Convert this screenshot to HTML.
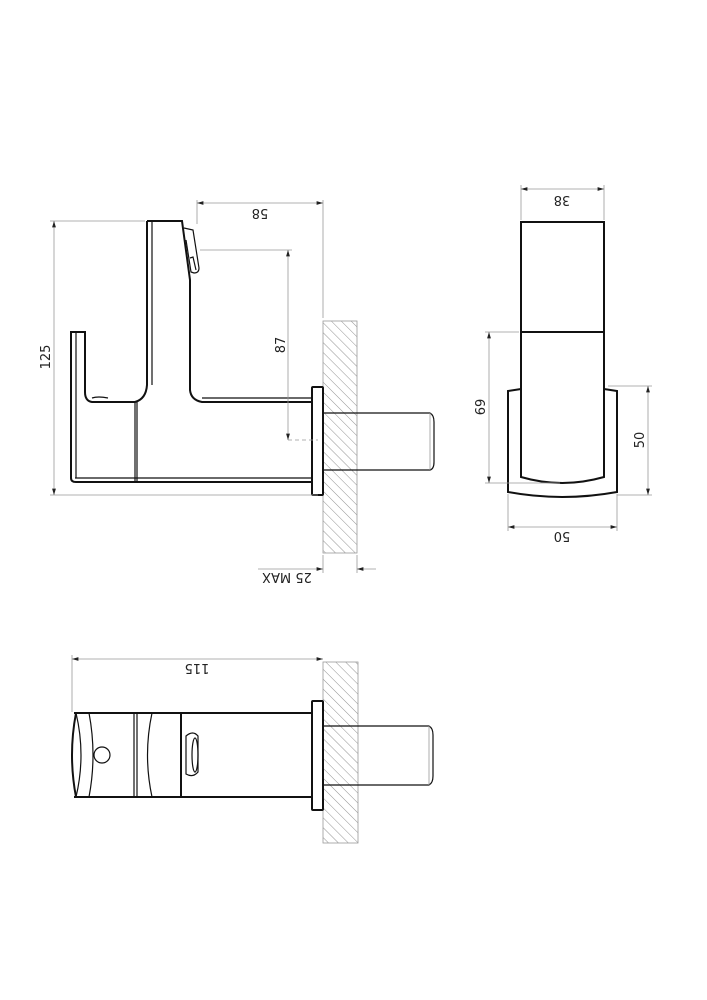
<!DOCTYPE html>
<html><head><meta charset="utf-8"><style>
html,body{margin:0;padding:0;background:#fff;}
svg{display:block;}
text{font-family:"DejaVu Sans","Liberation Sans",sans-serif;font-size:13px;fill:#222;}
.t{stroke:#111;stroke-width:2;fill:none;}
.m{stroke:#111;stroke-width:1.2;fill:none;}
.d{stroke:#999;stroke-width:0.8;fill:none;}
</style></head><body>
<svg width="707" height="1000" viewBox="0 0 707 1000" xmlns="http://www.w3.org/2000/svg">
<defs>
<pattern id="h" patternUnits="userSpaceOnUse" width="7" height="7" patternTransform="rotate(-45)">
<line x1="0" y1="0" x2="0" y2="7" stroke="#777" stroke-width="0.8"/>
</pattern>
<marker id="a" viewBox="0 0 10 6" refX="10" refY="3" markerWidth="8" markerHeight="5" orient="auto-start-reverse">
<path d="M0,0 L10,3 L0,6 z" fill="#222"/>
</marker>
</defs>

<!-- ===== SIDE VIEW ===== -->
<rect x="323" y="321" width="34" height="232" fill="url(#h)" stroke="#999" stroke-width="0.8"/>
<path class="m" d="M323,413 H430 Q434,415 434,422 V462 Q434,469 430,470 H323"/>
<line class="d" x1="430" y1="413" x2="430" y2="470"/>
<rect class="t" x="312" y="387" width="11" height="108" rx="1"/>
<path class="t" d="M147,221 H182 L190,280 V390 Q191,400 202,402 H312"/>
<line class="m" x1="152" y1="221" x2="152" y2="385"/>
<path class="t" d="M147,221 V385 Q146,399 135,402 H92 Q85,401 85,392 V332 H71 V478 Q71,482 76,482 H312"/>
<line class="m" x1="76" y1="332" x2="76" y2="478"/>
<line class="m" x1="75" y1="478" x2="312" y2="478"/>
<line class="m" x1="202" y1="398" x2="312" y2="398"/>
<line class="m" x1="135" y1="402" x2="135" y2="482"/>
<line class="m" x1="137" y1="402" x2="137" y2="482"/>
<path class="m" d="M92,398 Q98,396 108,398"/>
<path class="m" d="M184,228 L193,230 L199,268 Q199,273 194,273 L191,272 L186,240"/>
<path class="m" d="M190,258 L193,257 L196,270"/>
<line class="d" x1="197" y1="200" x2="197" y2="224"/>
<line class="d" x1="323" y1="200" x2="323" y2="318"/>
<line class="d" x1="197" y1="203" x2="323" y2="203" marker-start="url(#a)" marker-end="url(#a)"/>
<text transform="translate(260,209) rotate(180)" text-anchor="middle">58</text>
<line class="d" x1="50" y1="221" x2="145" y2="221"/>
<line class="d" x1="50" y1="495" x2="318" y2="495"/>
<line class="d" x1="54" y1="221" x2="54" y2="495" marker-start="url(#a)" marker-end="url(#a)"/>
<text transform="translate(50,357) rotate(-90)" text-anchor="middle">125</text>
<line class="d" x1="200" y1="250" x2="292" y2="250"/>
<line class="d" x1="288" y1="440" x2="318" y2="440" stroke-dasharray="4,3"/>
<line class="d" x1="288" y1="250" x2="288" y2="440" marker-start="url(#a)" marker-end="url(#a)"/>
<text transform="translate(285,345) rotate(-90)" text-anchor="middle">87</text>
<line class="d" x1="323" y1="555" x2="323" y2="573"/>
<line class="d" x1="357" y1="555" x2="357" y2="573"/>
<line class="d" x1="258" y1="569" x2="323" y2="569" marker-end="url(#a)"/>
<line class="d" x1="376" y1="569" x2="357" y2="569" marker-end="url(#a)"/>
<text transform="translate(287,573) rotate(180)" text-anchor="middle">25 MAX</text>

<!-- ===== END VIEW ===== -->
<rect class="t" x="521" y="222" width="83" height="110"/>
<path class="t" d="M521,332 V477 Q562,489 604,477 V332"/>
<path class="t" d="M521,389 L508,391 V492 Q562,502 617,492 V391 L604,389"/>
<line class="d" x1="521" y1="185" x2="521" y2="220"/>
<line class="d" x1="604" y1="185" x2="604" y2="220"/>
<line class="d" x1="521" y1="189" x2="604" y2="189" marker-start="url(#a)" marker-end="url(#a)"/>
<text transform="translate(562,196) rotate(180)" text-anchor="middle">38</text>
<line class="d" x1="485" y1="332" x2="519" y2="332"/>
<line class="d" x1="485" y1="483" x2="560" y2="483"/>
<line class="d" x1="489" y1="332" x2="489" y2="483" marker-start="url(#a)" marker-end="url(#a)"/>
<text transform="translate(485,407) rotate(-90)" text-anchor="middle">69</text>
<line class="d" x1="608" y1="386" x2="652" y2="386"/>
<line class="d" x1="617" y1="495" x2="652" y2="495"/>
<line class="d" x1="648" y1="386" x2="648" y2="495" marker-start="url(#a)" marker-end="url(#a)"/>
<text transform="translate(644,440) rotate(-90)" text-anchor="middle">50</text>
<line class="d" x1="508" y1="494" x2="508" y2="531"/>
<line class="d" x1="617" y1="494" x2="617" y2="531"/>
<line class="d" x1="508" y1="527" x2="617" y2="527" marker-start="url(#a)" marker-end="url(#a)"/>
<text transform="translate(562,532) rotate(180)" text-anchor="middle">50</text>

<!-- ===== BOTTOM VIEW ===== -->
<rect x="323" y="662" width="35" height="181" fill="url(#h)" stroke="#999" stroke-width="0.8"/>
<path class="m" d="M323,726 H429 Q433,728 433,735 V776 Q433,783 429,785 H323"/>
<line class="d" x1="429" y1="726" x2="429" y2="785"/>
<rect class="t" x="312" y="701" width="11" height="109" rx="1"/>
<line class="t" x1="74" y1="713" x2="312" y2="713"/>
<line class="t" x1="74" y1="797" x2="312" y2="797"/>
<path class="t" d="M76,713 Q68,755 76,797"/>
<path class="m" d="M76,713 Q86,755 76,797"/>
<path class="m" d="M89,713 Q97,755 89,797"/>
<line class="m" x1="134" y1="713" x2="134" y2="797"/>
<line class="m" x1="137" y1="713" x2="137" y2="797"/>
<path class="m" d="M152,713 Q143,755 152,797"/>
<line class="t" x1="181" y1="713" x2="181" y2="797"/>
<circle class="m" cx="102" cy="755" r="8"/>
<path class="m" d="M186,736 Q193,730 198,736 V772 Q193,778 186,774 Z"/>
<ellipse class="m" cx="195" cy="755" rx="3" ry="17"/>
<line class="d" x1="72" y1="655" x2="72" y2="712"/>
<line class="d" x1="72" y1="659" x2="323" y2="659" marker-start="url(#a)" marker-end="url(#a)"/>
<text transform="translate(197,664) rotate(180)" text-anchor="middle">115</text>
</svg>
</body></html>
